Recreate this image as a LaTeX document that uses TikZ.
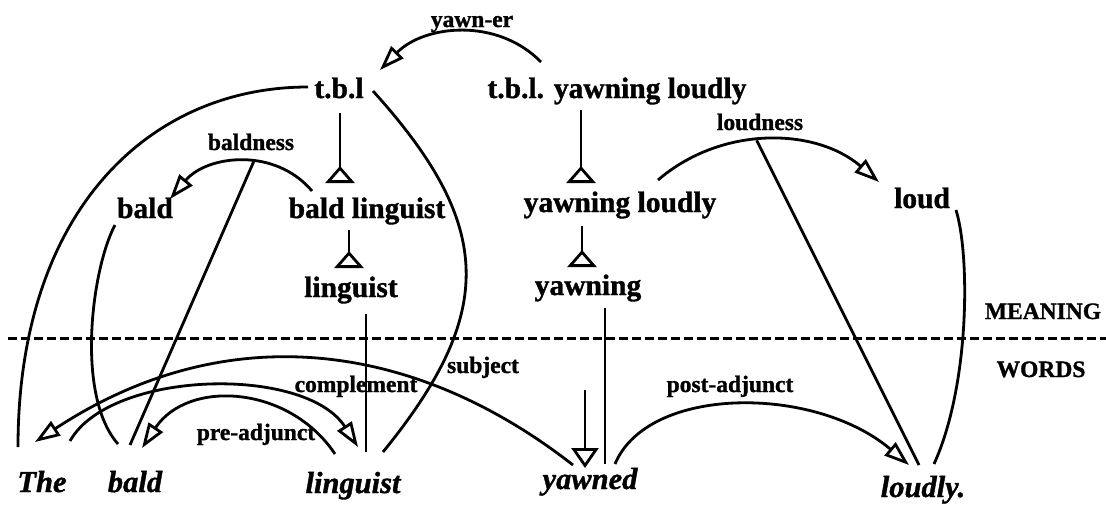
\documentclass[tikz,border=0pt]{standalone}
\usepackage{fontspec}
\setmainfont{Liberation Serif}[BoldFeatures={FakeBold=1.2},BoldItalicFeatures={FakeBold=1.2}]
\usetikzlibrary{arrows.meta,calc}
\begin{document}
\begin{tikzpicture}[x=1pt,y=-1pt,
  every node/.style={inner sep=0pt, anchor=base},
  mean/.style={font=\fontsize{29.5}{30}\selectfont\bfseries},
  word/.style={font=\fontsize{30.5}{31}\selectfont\bfseries\itshape},
  lab/.style={font=\fontsize{23.5}{24}\selectfont\bfseries},
  ln/.style={line width=2.8pt},
  rel/.style={ln, -{Triangle[open,length=25pt,width=17pt]}},
  isa/.style={ln, -{Triangle[open,reversed,length=17pt,width=29pt]}},
  isadown/.style={ln, -{Triangle[open,length=20pt,width=27pt]}},
  divider/.style={line width=3pt, dash pattern=on 9pt off 4pt}
]
\useasboundingbox (0,0) rectangle (1106,504);

% meaning nodes
\node[lab] (yawner) at (472,27) {yawn-er};
\node[mean] (tbl) at (339,98) {t.b.l};
\node[mean] (tbly) at (617,98) {t.b.l. yawning loudly};
\node[lab] (baldness) at (251,150) {baldness};
\node[lab] (loudness) at (760,130) {loudness};
\node[mean] (baldM) at (145,218) {bald};
\node[mean] (bl) at (367,218) {bald linguist};
\node[mean] (yl) at (620,212) {yawning loudly};
\node[mean] (loud) at (922,208) {loud};
\node[mean] (lingM) at (351,297) {linguist};
\node[mean] (yawnM) at (588,295) {yawning};
\node[lab] (meaning) at (1043,319) {MEANING};
\node[lab] (wordslab) at (1041,377) {WORDS};

% relation labels
\node[lab] (subj) at (483,373) {subject};
\node[lab] (compl) at (356,392) {complement};
\node[lab] (postadj) at (730,392) {post-adjunct};
\node[lab] (preadj) at (256,440) {pre-adjunct};

% words
\node[word] (The) at (42,492) {The};
\node[word] (baldW) at (135,492) {bald};
\node[word] (lingW) at (353,493) {linguist};
\node[word] (yawned) at (590,489) {yawned};
\node[word] (loudly) at (923,497) {loudly.};

% divider
\coordinate (divL) at (8,338);
\coordinate (divR) at (1106,338);
\draw[divider] (divL) -- (divR);

% isa links
\draw[isa] ([shift={(1,15)}]tbl.base) -- ([shift={(-27,-35)}]bl.base);
\draw[isa] ([shift={(-18,12)}]bl.base) -- ([shift={(-2,-29)}]lingM.base);
\draw[isa] ([shift={(-36,12)}]tbly.base) -- ([shift={(-39,-29)}]yl.base);
\draw[isa] ([shift={(-38,14)}]yl.base) -- ([shift={(-6,-28)}]yawnM.base);
\coordinate (ytop) at (585,390);
\draw[isadown] (ytop) -- ([shift={(-5,-21)}]yawned.base);

% sense / referent links
\draw[ln] ([shift={(15,17)}]lingM.base) -- ([shift={(13,-41)}]lingW.base);
\draw[ln] ([shift={(17,13)}]yawnM.base) -- ([shift={(15,-25)}]yawned.base);
\draw[ln] ([shift={(-31,-11)}]tbl.base) .. controls (150,87) and (18,210) .. ([shift={(-24,-45)}]The.base);
\draw[ln] ([shift={(34,-7)}]tbl.base) .. controls (495,226) and (496,313) .. ([shift={(30,-41)}]lingW.base);
\draw[ln] ([shift={(-30,7)}]baldM.base) .. controls (92,268) and (75,395) .. ([shift={(-17,-48)}]baldW.base);
\draw[ln] ([shift={(34,2)}]loud.base) .. controls (970,255) and (970,385) .. ([shift={(11,-33)}]loudly.base);

% semantic relations
\draw[rel] ([shift={(-76,-36)}]tbly.base) .. controls (497,17) and (424,25) .. ([shift={(41,-28)}]tbl.base);
\draw[rel] ([shift={(-55,-27)}]bl.base) .. controls (275,147) and (207,155) .. coordinate[pos=0.42] (bness) ([shift={(25,-19)}]baldM.base);
\draw[ln] (bness) -- ([shift={(-5,-47)}]baldW.base);
\draw[rel] ([shift={(38,-32)}]yl.base) .. controls (721.5,125.4) and (815.5,127.4) .. coordinate[pos=0.45] (lness) ([shift={(-43,-26)}]loud.base);
\draw[ln] (lness) -- ([shift={(-4,-32)}]loudly.base);

% syntactic dependencies
\draw[rel] ([shift={(-17,-24)}]yawned.base) .. controls (413,340) and (225,317) .. ([shift={(-7,-50)}]The.base);
\draw[rel] ([shift={(28,-51)}]The.base) .. controls (110,370) and (305,365) .. ([shift={(5,-46)}]lingW.base);
\draw[rel] ([shift={(-18,-39)}]lingW.base) .. controls (289,385) and (188,379) .. ([shift={(7,-44)}]baldW.base);
\draw[rel] ([shift={(25,-25)}]yawned.base) .. controls (648,385) and (815,385) .. ([shift={(-14,-32)}]loudly.base);
\end{tikzpicture}
\end{document}
